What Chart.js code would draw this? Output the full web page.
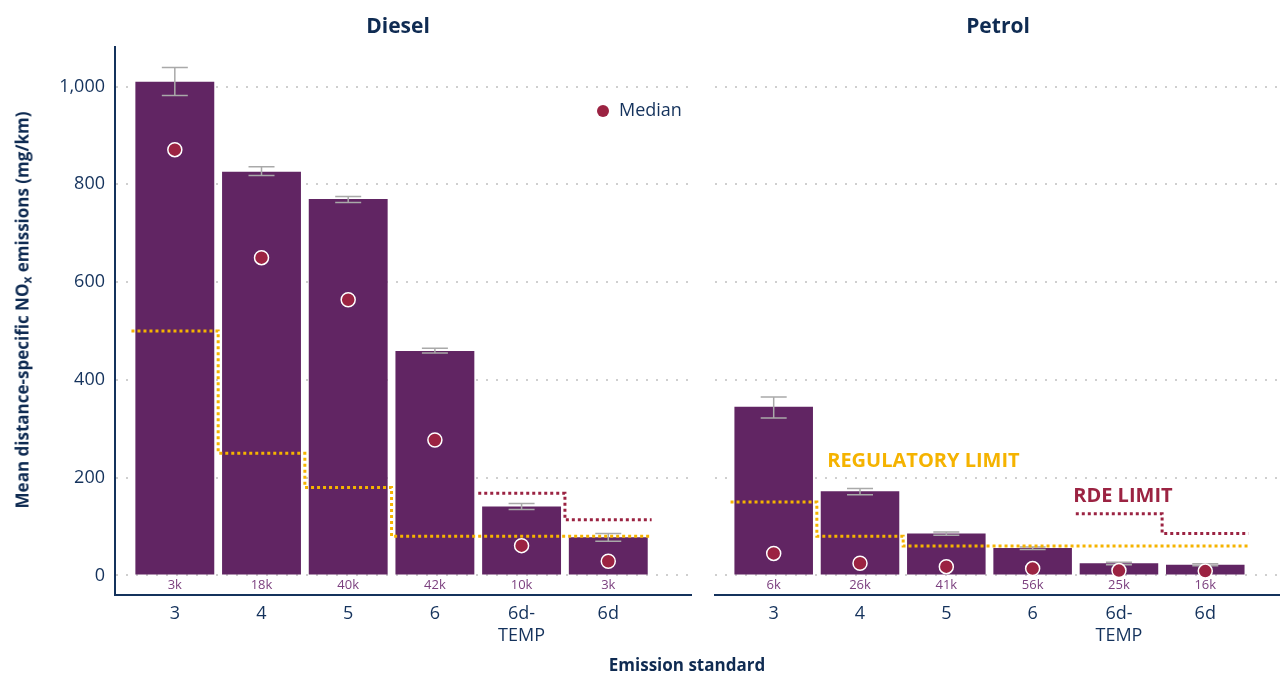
<!DOCTYPE html>
<html>
<head>
<meta charset="utf-8">
<script src="https://cdn.jsdelivr.net/npm/chart.js@4"></script>
<style>
body { margin: 0; width: 1288px; height: 675px; position: relative; background: #fff; overflow: hidden;
       font-family: "Open Sans", sans-serif; color: #14325c; }
canvas { position: absolute; top: 0; }
#cL { left: 0; }
#cR { left: 700px; }
.ttl { position: absolute; font-weight: bold; white-space: nowrap; transform: translate(-50%, -50%); color: #0f2b52; }
#ytitle { position: absolute; left: 23px; top: 310px; width: 600px; text-align: center; font-weight: bold;
          font-size: 17px; white-space: nowrap; transform: translate(-50%, -50%) rotate(-90deg); color: #0f2b52; }
#ytitle sub { font-size: 12px; vertical-align: -3px; }
</style>
</head>
<body>
<canvas id="cL" width="700" height="675"></canvas>
<canvas id="cR" width="588" height="675"></canvas>
<div class="ttl" style="left:398px;top:25px;font-size:21px">Diesel</div>
<div class="ttl" style="left:998px;top:25px;font-size:21px">Petrol</div>
<div class="ttl" style="left:687px;top:664px;font-size:17px">Emission standard</div>
<div id="ytitle">Mean distance-specific NO<sub>x</sub> emissions (mg/km)</div>
<script>
// emission standards (x categories)
const standards = ["3", "4", "5", "6", "6d-TEMP", "6d"];
const yTicks = [0, 200, 400, 600, 800, 1000];

// diesel
const dieselMean = [1010, 826, 770, 459, 141, 78];
const dieselLow = [982, 818, 763, 455, 135, 70];
const dieselHigh = [1039, 836, 775, 465, 147, 86];
const dieselMedian = [871, 650, 564, 277, 61, 29];
const dieselCount = ["3k", "18k", "40k", "42k", "10k", "3k"];
const dieselRegLimit = [500, 250, 180, 80, 80, 80];
const dieselRdeLimit = [null, null, null, null, 168, 114];

// petrol
const petrolMean = [345, 172, 86, 56, 25, 22];
const petrolLow = [322, 165, 82, 53, 22, 20];
const petrolHigh = [365, 178, 89, 58, 27, 24];
const petrolMedian = [45, 25, 18, 14, 10, 9];
const petrolCount = ["6k", "26k", "41k", "56k", "25k", "16k"];
const petrolRegLimit = [150, 80, 60, 60, 60, 60];
const petrolRdeLimit = [null, null, null, null, 126, 86];

const NAVY = "#14325c";
const PURPLE = "#612563";
const RED = "#9b2342";
const GOLD = "#f5b300";
const FONT = "'Open Sans', sans-serif";

function pts(arr) {
    return arr.map((v, i) => ({ x: i, y: v }));
}

// horizontal segment per category, joined by vertical drops at the boundaries
function stepPts(limits) {
    const out = [];
    limits.forEach((v, i) => {
        if (v == null) return;
        out.push({ x: i - 0.5, y: v }, { x: i + 0.5, y: v });
    });
    return out;
}

function overlay(low, high, counts, extra) {
    return {
        id: "overlay",
        afterDatasetDraw(chart, args) {
            if (args.index !== 0) return;
            const ctx = chart.ctx, xs = chart.scales.x, ys = chart.scales.y;
            ctx.save();
            ctx.strokeStyle = "#a9a9a9";
            ctx.lineWidth = 1.5;
            low.forEach((lo, i) => {
                const x = xs.getPixelForValue(i);
                const y1 = ys.getPixelForValue(lo), y2 = ys.getPixelForValue(high[i]);
                ctx.beginPath();
                ctx.moveTo(x, y1); ctx.lineTo(x, y2);
                ctx.moveTo(x - 13, y1); ctx.lineTo(x + 13, y1);
                ctx.moveTo(x - 13, y2); ctx.lineTo(x + 13, y2);
                ctx.stroke();
            });
            ctx.restore();
        },
        afterDraw(chart) {
            const ctx = chart.ctx, xs = chart.scales.x, ys = chart.scales.y;
            ctx.save();
            ctx.font = "13px " + FONT;
            ctx.fillStyle = "#7b3f7e";
            ctx.textAlign = "center";
            ctx.textBaseline = "middle";
            counts.forEach((c, i) => {
                ctx.fillText(c, xs.getPixelForValue(i), ys.getPixelForValue(0) + 10);
            });
            if (extra) extra(ctx, xs, ys);
            ctx.restore();
        }
    };
}

function makeChart(id, mean, low, high, median, counts, reg, rde, side, extra) {
    const left = side === "left";
    return new Chart(document.getElementById(id), {
        type: "bar",
        data: {
            datasets: [
                {
                    type: "bar",
                    data: pts(mean),
                    backgroundColor: PURPLE,
                    barPercentage: 0.91,
                    categoryPercentage: 1,
                    order: 4
                },
                {
                    type: "line",
                    data: stepPts(reg),
                    borderColor: GOLD,
                    borderWidth: 3,
                    borderDash: [3, 3],
                    pointRadius: 0,
                    fill: false,
                    order: 3
                },
                {
                    type: "line",
                    data: stepPts(rde),
                    borderColor: RED,
                    borderWidth: 3,
                    borderDash: [3, 3],
                    pointRadius: 0,
                    fill: false,
                    order: 2
                },
                {
                    type: "line",
                    data: pts(median),
                    showLine: false,
                    pointRadius: 7,
                    pointBackgroundColor: RED,
                    pointBorderColor: "#ffffff",
                    pointBorderWidth: 1.5,
                    order: 1
                }
            ]
        },
        options: {
            responsive: false,
            animation: false,
            events: [],
            layout: { padding: { top: 47, right: left ? 5 : 3, left: 0, bottom: 0 } },
            plugins: { legend: { display: false }, tooltip: { enabled: false } },
            scales: {
                x: {
                    type: "linear",
                    offset: false,
                    min: left ? -0.69 : -0.68,
                    max: left ? 5.96 : 5.86,
                    afterBuildTicks: s => { s.ticks = standards.map((_, i) => ({ value: i })); },
                    afterFit: s => { s.height = 80; },
                    ticks: {
                        autoSkip: false,
                        maxRotation: 0,
                        padding: 8,
                        color: NAVY,
                        font: { size: 18, family: FONT },
                        callback: v => {
                            const l = standards[v];
                            return l === "6d-TEMP" ? ["6d-", "TEMP"] : l;
                        }
                    },
                    grid: { display: false, drawTicks: false },
                    border: { display: true, color: NAVY, width: 2 }
                },
                y: {
                    min: -40,
                    max: 1081,
                    afterBuildTicks: s => { s.ticks = yTicks.map(v => ({ value: v })); },
                    afterFit: s => { s.width = left ? 115 : 15; },
                    ticks: {
                        display: left,
                        padding: 10,
                        color: NAVY,
                        font: { size: 18, family: FONT },
                        callback: v => v.toLocaleString("en-US")
                    },
                    grid: { color: "#cfcfcf", lineWidth: 2, drawTicks: false },
                    border: { display: left, color: NAVY, width: 2, dash: [2, 8] }
                }
            }
        },
        plugins: [overlay(low, high, counts, extra)]
    });
}

makeChart("cL", dieselMean, dieselLow, dieselHigh, dieselMedian, dieselCount,
    dieselRegLimit, dieselRdeLimit, "left", (ctx) => {
        ctx.beginPath();
        ctx.arc(603, 111, 6, 0, Math.PI * 2);
        ctx.fillStyle = RED;
        ctx.fill();
        ctx.fillStyle = NAVY;
        ctx.font = "18px " + FONT;
        ctx.textAlign = "left";
        ctx.fillText("Median", 619, 111);
    });

makeChart("cR", petrolMean, petrolLow, petrolHigh, petrolMedian, petrolCount,
    petrolRegLimit, petrolRdeLimit, "right", (ctx, xs, ys) => {
        ctx.textAlign = "left";
        ctx.font = "bold 20px " + FONT;
        ctx.fillStyle = GOLD;
        ctx.fillText("REGULATORY LIMIT", xs.getPixelForValue(0.62), ys.getPixelForValue(233));
        ctx.fillStyle = RED;
        ctx.fillText("RDE LIMIT", xs.getPixelForValue(3.47), ys.getPixelForValue(162));
    });
</script>
</body>
</html>
